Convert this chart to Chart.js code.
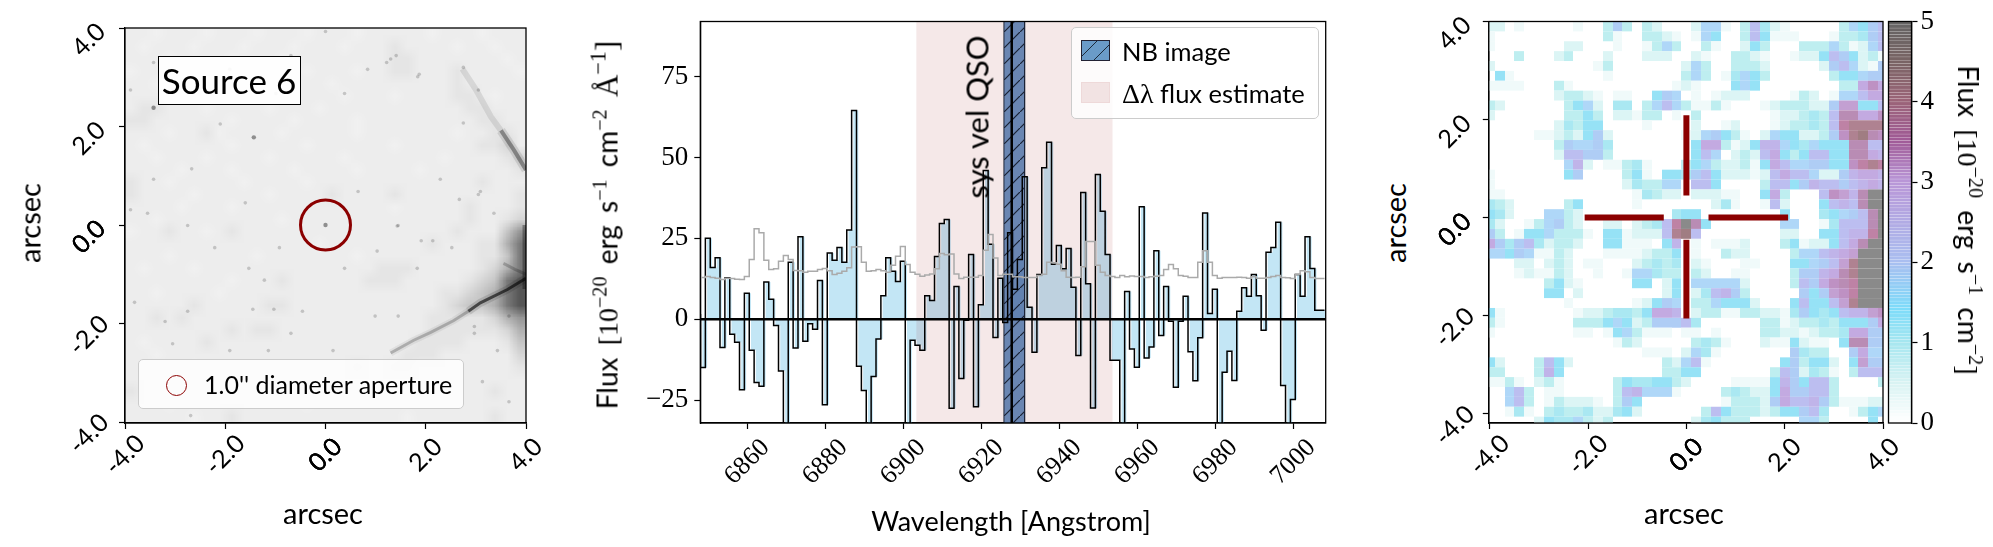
<!DOCTYPE html>
<html>
<head>
<meta charset="utf-8">
<script src="https://cdn.jsdelivr.net/npm/chart.js@4"></script>
<style>
  body { margin: 0; background: #fff; width: 1993px; height: 547px; overflow: hidden; position: relative; }
  canvas { position: absolute; top: 0; }
  .t { position: absolute; white-space: nowrap; font-family: Lato, sans-serif; color: #000; line-height: 1; }
  .c { transform: translate(-50%, -50%); }
  .up { transform: translate(-50%, -50%) rotate(-90deg); }
  .down { transform: translate(-50%, -50%) rotate(90deg); }
  .m { font-family: "Liberation Serif", serif; }
  sup { font-family: "Liberation Serif", serif; font-size: 0.72em; line-height: 0; vertical-align: 0.55em; }
  .box { position: absolute; box-sizing: border-box; }
</style>
</head>
<body>
<canvas id="imgPanel" width="620" height="547" style="left:0"></canvas>
<canvas id="specPanel" width="730" height="547" style="left:620px"></canvas>
<canvas id="heatPanel" width="500" height="547" style="left:1420px"></canvas>
<canvas id="barPanel" width="133" height="547" style="left:1860px"></canvas>

<div class="t c" style="left:323px;top:512px;font-size:29px">arcsec</div>
<div class="t up" style="left:29px;top:223px;font-size:29px">arcsec</div>
<div class="box" style="left:158px;top:56px;width:143px;height:49px;background:rgba(255,255,255,.9);border:1px solid #000"></div>
<div class="t c" style="left:229px;top:80px;font-size:35px">Source 6</div>
<div class="box" style="left:138px;top:359px;width:326px;height:50px;background:rgba(255,255,255,.8);border:1px solid #ccc;border-radius:5px"></div>
<div class="box" style="left:166px;top:375px;width:21px;height:21px;border:1.5px solid #8b0000;border-radius:50%"></div>
<div class="t" style="left:204px;top:372px;font-size:25px">1.0'' diameter aperture</div>

<div class="t up" style="left:607px;top:225px;font-size:28px;word-spacing:5px">Flux <span class="m">[10<sup>−20</sup></span> erg s<sup>−1</sup> cm<sup>−2</sup> <span class="m" style="font-size:31px">Å<sup>−1</sup>]</span></div>
<div class="t c" style="left:1011px;top:520px;font-size:27px">Wavelength [Angstrom]</div>
<div class="t up" style="left:977px;top:117px;font-size:31px">sys vel QSO</div>
<div class="box" style="left:1071px;top:27px;width:248px;height:92px;background:rgba(255,255,255,.8);border:1px solid #ccc;border-radius:5px"></div>
<div class="box" style="left:1081px;top:40px;width:29px;height:21px;border:1px solid #223;background:repeating-linear-gradient(135deg,#6a9bc8 0 10.3px,#1c2a3a 10.3px 11.3px)"></div>
<div class="box" style="left:1081px;top:82px;width:29px;height:21px;background:#f2e3e3;border:1px solid #eed9d9"></div>
<div class="t" style="left:1122px;top:39px;font-size:25.5px">NB image</div>
<div class="t" style="left:1122px;top:80px;font-size:25.5px"><span class="m" style="font-size:28px">Δλ</span> flux estimate</div>

<div class="t c" style="left:1684px;top:512px;font-size:29px">arcsec</div>
<div class="t up" style="left:1394px;top:223px;font-size:29px">arcsec</div>
<div class="t down" style="left:1968px;top:220px;font-size:28px;word-spacing:5px">Flux <span class="m">[10<sup>−20</sup></span> erg s<sup>−1</sup> cm<sup>−2</sup><span class="m">]</span></div>

<script>
// spectrum, one value per 1.25 A bin, left edge of each bin
const wave = [6848,6849.25,6850.5,6851.75,6853,6854.25,6855.5,6856.75,6858,6859.25,6860.5,6861.75,6863,6864.25,6865.5,6866.75,
  6868,6869.25,6870.5,6871.75,6873,6874.25,6875.5,6876.75,6878,6879.25,6880.5,6881.75,6883,6884.25,6885.5,6886.75,
  6888,6889.25,6890.5,6891.75,6893,6894.25,6895.5,6896.75,6898,6899.25,6900.5,6901.75,6903,6904.25,6905.5,6906.75,
  6908,6909.25,6910.5,6911.75,6913,6914.25,6915.5,6916.75,6918,6919.25,6920.5,6921.75,6923,6924.25,6925.5,6926.75,
  6928,6929.25,6930.5,6931.75,6933,6934.25,6935.5,6936.75,6938,6939.25,6940.5,6941.75,6943,6944.25,6945.5,6946.75,
  6948,6949.25,6950.5,6951.75,6953,6954.25,6955.5,6956.75,6958,6959.25,6960.5,6961.75,6963,6964.25,6965.5,6966.75,
  6968,6969.25,6970.5,6971.75,6973,6974.25,6975.5,6976.75,6978,6979.25,6980.5,6981.75,6983,6984.25,6985.5,6986.75,
  6988,6989.25,6990.5,6991.75,6993,6994.25,6995.5,6996.75,6998,6999.25,7000.5,7001.75,7003,7004.25,7005.5,7006.75,7008];
const flux = [1.6,-14.9,25,16,19,-8.7,12.8,-4.6,-7.1,-21.8,8,-9.6,-19.5,-20.7,11.5,6.2,
  -1.9,-16,-36,17.6,-8.9,25.5,-6.8,-1.4,-3.1,12,-26.4,20.5,18.2,22.2,17.6,27.6,
  64.5,-14.5,-22,-35,-17.7,-6.1,7.3,19,14.8,11.7,17.9,-40,-6.5,-8,-9.6,7.3,
  5.8,19.4,29.6,30.8,-27.5,10.1,-18.3,-0.3,20,-27,4.5,46,23.2,-5.6,12.7,-1,
  26.7,9.3,18.5,44,3.7,-10.2,13.8,46.8,54.7,17,22.8,15.6,21.9,9.9,-11.2,39.2,
  11,-27.4,44.7,33.4,20,-12.7,-12.7,-40,8.6,-9.2,-14.8,34.8,-12,-8.6,21.2,-5,
  10.1,-0.6,-21,-0.6,7.1,-10,-19,-5.7,32.8,1.8,9.3,-40,-16.4,-9.9,-18.9,2.5,
  9.7,7.1,13.8,7.3,-3.4,20.7,22.2,30,-20.5,-35,-24.8,13.8,7.1,25.5,15.7,2.8,2.8];
const noise = [12.6,12.9,13.2,12.9,12.7,12.3,12.7,12.6,12.4,12.3,13.2,18.5,28,26.7,18.2,15.4,
  15.6,17.9,19.7,18.5,15.1,15,14.5,14.8,14.8,15.4,15.7,15,13.8,14.2,14.8,15.9,
  22.3,22.4,17.6,14.8,15,15.4,15,14.5,16.7,19.5,22.5,16.9,14.5,13.9,13.3,13.7,
  14,15.6,20.3,19.9,20.2,14,12.6,13,13,13,13.5,21.3,26.2,18.9,13.5,13.9,
  13.9,13.1,13.1,12.9,12.9,12.9,13.5,13.9,17.6,17.5,17,15,13,12.9,13,16.2,
  24,24,16.7,14.5,13.5,13.2,12.9,13.5,13.1,13.4,13.2,13.2,12.9,13.1,13.3,13.5,
  15.4,16.9,15.6,13.5,13.3,12.9,12.9,17.6,21.2,17.6,13.5,12.7,12.9,12.9,12.9,13,
  12.9,12.7,13.1,12.7,12.7,12.9,13.2,13.5,12.9,12.8,12.6,13.8,15,14.7,12.9,12.6,12.6];
const fluxBand = [6903.3, 6953.7];
const nbBand = [6925.8, 6931.1];
const sysVel = 6927.8;

const waveTicks = [6860,6880,6900,6920,6940,6960,6980,7000];
const fluxTicks = [-25,0,25,50,75];
const fluxTickLabels = ['−25','0','25','50','75'];
const arcsecTicks = [-4,-2,0,2,4];
const arcsecLabels = ['-4.0','-2.0','0.0','2.0','4.0'];
const barTicks = [0,1,2,3,4,5];

// NB flux map, one object per row from the top, col: flux in quarter units, missing cells are 0
const heatRows = [
  {0:2,1:2,3:1,9:1,12:3,13:7,14:3,16:3,17:2,21:2,22:6,23:6,24:1,26:3,27:8,28:4,29:2,30:1,36:3,37:6,38:5,39:7,40:8},
  {0:1,12:3,13:1,16:3,17:3,18:2,19:1,21:1,22:6,23:5,26:3,27:8,28:5,29:1,30:1,31:1,35:1,36:3,37:3,38:4,39:7,40:8},
  {0:1,8:2,9:2,13:1,16:1,17:3,18:6,19:3,22:3,23:1,26:2,27:5,28:3,32:3,33:3,34:3,35:6,36:3,37:1,38:2,39:6,40:8},
  {3:3,7:2,8:3,12:2,16:2,17:2,18:2,21:2,22:1,25:3,26:3,27:2,28:1,31:1,32:2,33:2,34:5,35:8,36:7,37:5,38:2,39:3,40:1},
  {0:2,11:1,12:3,20:2,21:6,22:3,25:3,26:3,27:3,28:2,34:2,35:7,36:8,37:6,38:2,39:1,40:7},
  {1:5,2:1,12:1,20:3,21:6,22:3,24:1,25:4,26:6,27:5,28:3,35:3,36:5,37:5,38:6,39:7,40:7},
  {0:1,1:1,2:1,3:1,7:3,8:1,19:1,20:2,21:1,25:5,26:6,27:5,36:3,37:3,38:10,39:12,40:10},
  {7:2,8:3,9:3,10:2,11:1,13:1,14:1,17:5,18:7,19:6,21:1,23:1,24:2,25:2,26:2,31:1,32:3,33:2,35:1,36:6,37:6,38:8,39:10,40:10},
  {0:3,1:2,8:3,9:5,10:6,11:2,13:4,14:4,16:3,17:6,18:8,19:6,20:3,21:1,22:1,23:3,24:1,28:1,29:2,30:3,31:3,32:3,33:2,34:2,35:7,36:11,37:11,38:5,39:5,40:8},
  {0:2,8:3,9:3,10:5,11:3,13:2,14:2,15:1,16:3,17:3,19:1,21:3,29:1,30:2,31:2,32:3,33:4,34:3,35:8,36:13,37:13,38:10,39:10,40:12},
  {7:2,8:4,9:3,10:5,11:5,16:1,21:2,24:1,25:2,29:1,30:2,31:3,32:3,33:4,34:3,35:8,36:14,37:15,38:15,39:15,40:15},
  {5:1,6:1,7:2,8:3,9:2,10:5,11:7,12:2,20:1,21:2,22:6,23:7,24:5,25:3,26:1,28:2,29:6,30:5,31:5,32:2,33:2,34:3,35:7,36:12,37:15,38:16,39:13,40:12},
  {7:3,8:7,9:6,10:6,11:7,12:4,21:5,22:10,23:10,24:3,25:1,26:2,27:5,28:9,29:9,30:6,31:5,32:4,33:6,34:5,35:5,36:5,37:13,38:13,39:8,40:8},
  {7:2,8:8,9:8,10:7,11:7,12:3,21:5,22:8,23:6,25:2,26:3,27:2,28:8,29:10,30:5,31:3,32:5,33:8,34:8,35:5,36:5,37:13,38:13,39:10,40:9},
  {8:6,9:9,10:2,12:1,13:1,14:3,15:4,16:1,20:3,21:5,22:6,23:3,24:2,25:2,26:3,27:1,28:5,29:10,30:8,31:6,32:6,33:7,34:7,35:5,36:5,37:12,38:14,39:15,40:14},
  {0:1,8:5,9:7,14:3,15:5,16:1,18:5,19:5,20:4,21:7,22:8,23:5,24:2,25:2,26:2,27:1,28:2,29:8,30:10,31:8,32:8,33:6,34:2,35:2,36:7,37:9,38:10,39:10,40:9},
  {0:1,14:2,15:4,16:3,17:3,18:6,19:6,21:8,22:8,23:5,28:3,29:8,30:8,31:5,32:7,33:9,34:8,35:8,36:7,37:8,38:9,39:10,40:9},
  {0:1,1:1,15:1,16:4,17:3,18:2,19:2,21:2,22:2,23:2,24:1,25:1,28:5,29:10,30:3,34:8,35:12,36:11,37:9,38:13,39:20,40:20},
  {0:4,1:3,2:2,8:3,9:5,15:1,23:2,24:4,25:1,28:1,29:8,30:2,34:5,35:8,36:9,37:8,38:13,39:20,40:20},
  {0:5,1:4,2:2,6:6,7:6,8:3,9:2,19:4,20:5,21:5,30:5,34:4,35:5,36:6,37:7,38:8,39:13,40:20},
  {0:4,1:2,4:1,5:3,6:6,7:7,8:3,9:2,12:2,13:2,15:2,16:3,17:4,18:8,19:14,20:20,21:13,22:5,30:6,31:6,34:1,35:4,36:8,37:8,38:8,39:13,40:20},
  {0:7,1:3,3:1,4:5,5:5,6:6,7:3,8:3,9:3,10:1,12:5,13:5,14:1,15:2,16:2,17:2,18:8,19:15,20:16,21:8,30:2,31:2,34:5,35:5,36:8,37:9,38:9,39:14,40:20},
  {0:10,1:7,2:4,3:7,4:8,5:4,6:2,7:3,8:3,9:2,12:5,13:5,14:1,15:1,16:1,18:5,19:9,21:1,23:1,24:1,25:1,26:2,30:3,31:5,32:1,33:2,34:2,35:5,36:8,37:10,38:13,39:20,40:20},
  {0:6,1:6,2:5,3:7,4:6,5:1,6:1,7:3,8:2,12:1,13:1,14:1,15:1,16:2,17:3,18:3,19:5,21:1,24:3,25:2,26:2,31:3,32:6,33:6,34:8,35:9,36:10,37:11,38:20,39:20,40:20},
  {3:2,4:2,6:2,7:3,8:2,10:1,11:1,15:2,16:3,17:4,18:3,19:4,21:2,22:1,26:1,27:1,31:5,32:5,33:6,34:7,35:8,36:11,37:15,38:20,39:20,40:20},
  {3:1,4:2,5:1,6:1,7:3,8:2,11:1,14:1,15:6,16:6,17:4,18:3,19:3,21:3,22:2,25:1,26:1,31:3,32:7,33:7,34:9,35:10,36:13,37:15,38:20,39:20,40:20},
  {6:3,7:5,8:2,9:1,15:5,16:5,18:2,19:5,21:6,22:6,23:6,24:6,25:6,26:2,31:3,32:8,33:7,34:10,35:12,36:13,37:14,38:20,39:20,40:20},
  {6:5,7:5,9:2,18:2,19:5,21:2,22:4,23:8,24:9,25:7,26:3,32:7,33:5,34:7,35:11,36:12,37:14,38:20,39:20,40:20},
  {8:1,15:1,16:2,17:5,18:7,19:6,21:3,22:3,23:6,24:5,25:5,26:5,27:2,31:5,32:8,33:5,34:5,35:8,36:11,37:15,38:20,39:20,40:20},
  {0:5,1:1,9:1,10:2,11:2,12:3,13:4,14:4,15:3,16:5,17:10,18:10,19:9,21:2,22:3,23:3,24:1,25:1,26:3,27:3,28:2,29:2,30:1,31:4,32:7,33:5,34:4,35:5,36:8,37:9,38:9,39:11,40:12},
  {0:3,1:1,9:3,10:3,11:3,12:5,13:6,14:5,15:2,16:3,17:7,18:7,19:7,20:8,21:4,28:3,29:3,30:1,31:2,32:3,33:3,34:4,35:3,36:5,37:5,38:5,39:7,40:10},
  {0:1,9:1,10:1,12:1,13:5,14:6,15:3,16:1,17:1,18:1,20:1,21:1,23:1,28:3,29:3,30:2,31:2,32:1,33:2,34:3,35:3,36:4,37:10,38:10,39:7,40:7},
  {13:1,14:3,15:2,21:3,22:4,23:3,24:1,28:2,29:1,30:1,31:5,32:2,33:1,34:1,36:5,37:13,38:13,39:7,40:7},
  {16:1,17:1,18:1,20:2,21:6,22:4,23:1,31:7,32:4,33:3,34:3,37:7,38:10,39:6,40:6},
  {0:5,1:2,5:3,6:8,7:5,8:2,18:3,19:2,20:6,21:8,22:1,30:5,31:7,32:3,33:5,34:5,35:2,37:5,38:11,39:7,40:7},
  {0:3,1:3,5:3,6:9,7:5,18:3,19:3,20:5,21:5,29:3,30:8,31:7,32:2,33:4,34:3,35:1,37:3,38:8,39:8,40:8},
  {0:1,1:1,2:3,3:1,5:2,6:3,7:1,13:3,14:5,15:4,16:4,17:5,18:5,19:3,20:2,25:1,26:1,27:1,28:1,29:5,30:9,31:7,32:5,33:8,34:8,35:3,40:3},
  {2:6,3:8,4:3,6:1,7:1,13:3,14:8,15:9,16:6,17:6,18:6,19:1,24:3,25:4,26:3,27:2,28:2,29:5,30:10,31:7,32:7,33:8,34:8,35:3},
  {2:6,3:8,4:3,6:1,7:3,8:2,9:2,10:2,11:1,13:3,14:7,15:5,24:1,25:3,26:3,27:3,28:2,29:7,30:10,31:8,32:8,33:9,34:7,35:3,36:1,37:1,38:1,39:2,40:2},
  {2:1,3:4,4:1,6:3,7:4,8:3,9:3,10:4,11:2,12:2,13:4,14:5,15:2,22:3,23:8,24:5,25:3,26:3,27:3,28:2,29:3,30:5,31:5,32:7,33:8,34:4,37:1,38:3,39:5,40:6},
  {5:2,6:5,7:4,8:4,9:6,10:3,11:2,12:3,21:2,22:4,23:5,24:3,25:3,26:3,32:6,33:6,34:3,39:5}
];
const heatStops = [0,0.25,0.5,0.75,1,1.25,1.5,1.75,2,2.5,2.75,3,3.25,3.5,3.75,4,5];
const heatColors = [[255,255,255],[240,250,250],[220,245,245],[190,238,240],[170,232,242],[150,226,246],[175,215,248],[175,205,245],
  [188,190,240],[195,170,225],[195,160,210],[190,145,195],[185,140,180],[190,130,165],[175,130,145],[160,125,130],[138,138,138]];
const barStops = [0,0.5,1,1.4,2,3,3.5,4,4.5,5];
const barColors = [[255,255,255],[215,243,243],[165,230,240],[125,220,250],[170,190,240],[185,150,215],[160,90,150],[155,100,120],[120,100,100],[100,100,100]];

// HST cutout, tone read by eye on a 0.25 arcsec grid, the pixel noise itself is not reproduced
const imgRows = [
  '22122212221222122212222212221222',
  '21222122212221222122232222122122',
  '22212222122212222222233222222212',
  '12221222212222122212233222322221',
  '22122122222122221222222222322222',
  '22212222122222222122212222332122',
  '23322212222122212222222222233222',
  '33222222122221222212222222223322',
  '22212231222212222212222222122332',
  '21222222122222122222212222223342',
  '22122212222122222122222221222234',
  '22221222122221222212222122222223',
  '32212222212222122222222222223222',
  '32222122222122223222232222222223',
  '22221222122222222222212222232223',
  '22122222222212222222222222232234',
  '12232212322222222222222222322257',
  '22222222222222212222222232223368',
  '22212222221222222212222222223358',
  '21222122222222222222333222223468',
  '22222222122232222223332222234589',
  '22122221222222222222222223345689',
  '22222322222332222222222223455689',
  '22323222222222222222222233333467',
  '22222222323322222222222233333346',
  '21222232222222222222222333322235',
  '22122222222222222222223332222224',
  '22222122222222222232233222222223',
  '22212222212222222222222222222222',
  '32222222222122222222222222222322',
  '22212222222222122222222222222222',
  '22222122322222222222221222222322'
];
const imgGrey = [250,241,237,229,214,197,176,150,120,85];
const speckDark = [{x:-1.43,y:1.78},{x:-3.43,y:2.38},{x:0,y:0}];
const speckFaint = [{x:-2.69,y:-3.87},{x:1.87,y:3.06},{x:0.65,y:0.68},{x:-2.1,y:2.05},{x:-2.75,y:-0.01},{x:-3.55,y:0.24},
  {x:-1.22,y:-1.12},{x:-1.45,y:-1.71},{x:-3.2,y:-1.96},{x:-2.75,y:-1.75},{x:1.45,y:-0.01},{x:1.03,y:-0.53},{x:3.05,y:0.62},
  {x:2.14,y:-0.32},{x:2.75,y:3.2},{x:-0.46,y:-1.75},{x:-1.03,y:-1.71},{x:0.15,y:-2.55},{x:2.52,y:-0.46},{x:1.22,y:3.3},{x:2.97,y:-2.06},{x:3.05,y:2.74},
  {x:1.41,y:3.44},{x:1.3,y:3.37},{x:0.84,y:3.16},{x:-0.69,y:3.44},{x:0,y:3.93},{x:0.38,y:2.67},{x:-1.91,y:3.16},{x:-3.43,y:3.3},{x:-3.89,y:2.74},
  {x:-0.99,y:2.67},{x:-2.67,y:1.14},{x:-1.6,y:0.45},{x:-3.43,y:0.93},{x:-3.89,y:0.31},{x:-2.21,y:-0.46},{x:-1.53,y:-0.88},{x:-0.92,y:-0.46},
  {x:0.38,y:-0.88},{x:1.91,y:-0.32},{x:1.83,y:-0.88},{x:2.67,y:0.52},{x:2.29,y:0.93},{x:3.36,y:0.24},{x:0.99,y:-1.85},{x:1.45,y:-1.85},
  {x:-1.91,y:-2.55},{x:-3.05,y:-2.41},{x:-3.81,y:-1.57},{x:-1.14,y:-2.55},{x:3.43,y:-2.55},{x:3.13,y:-3.18},{x:3.66,y:-3.59},{x:2.97,y:-2.2},
  {x:3.66,y:-1.85},{x:-0.69,y:-2.2},{x:1.84,y:3.01},{x:2.75,y:2.07},{x:3.09,y:0.68},{x:1.43,y:-0.02}];
const lowerArc = [{x:4,y:-1.08},{x:3.63,y:-1.31},{x:3.09,y:-1.58},{x:2.85,y:-1.75}];
const lowerArcEnd = [{x:2.85,y:-1.75},{x:2.56,y:-1.94},{x:2.1,y:-2.18},{x:1.76,y:-2.34},{x:1.3,y:-2.6}];
const upperArc = [{x:4,y:1.12},{x:3.76,y:1.52},{x:3.5,y:1.92}];
const upperArcEnd = [{x:3.5,y:1.92},{x:3.3,y:2.2},{x:3,y:2.75},{x:2.73,y:3.17}];
const knot = [{x:3.97,y:0},{x:3.97,y:-0.6},{x:3.97,y:-1.3}];
const knotArm = [{x:4,y:-1},{x:3.78,y:-0.9},{x:3.55,y:-0.78}];

const crossArms = [
  [{x:-2.07,y:0},{x:-0.46,y:0}],
  [{x:0.45,y:0},{x:2.07,y:0}],
  [{x:0,y:2.09},{x:0,y:0.45}],
  [{x:0,y:-0.45},{x:0,y:-2.06}]
];

const sans = 'Lato, sans-serif';
const serif = '"Liberation Serif", serif';

const lerpColor = (v, stops, colors) => {
  let i = 0;
  while (i < stops.length - 2 && v > stops[i + 1]) i++;
  const f = Math.min(1, (v - stops[i]) / (stops[i + 1] - stops[i]));
  const c = colors[i].map((a, k) => Math.round(a + (colors[i + 1][k] - a) * f));
  return `rgb(${c[0]},${c[1]},${c[2]})`;
};

// frame of the axes on top of everything
const framePlugin = {
  id: 'frame',
  afterDatasetsDraw(chart) {
    const a = chart.chartArea;
    chart.ctx.save();
    chart.ctx.strokeStyle = '#000';
    chart.ctx.lineWidth = 1.3;
    chart.ctx.strokeRect(a.left, a.top, a.width, a.height);
    chart.ctx.restore();
  }
};

// matplotlib centres rotated tick labels on the tick, chart.js does not, so they go through this
const tickText = (spec) => ({
  id: 'tickText',
  afterDraw(chart) {
    const ctx = chart.ctx;
    const a = chart.chartArea;
    ctx.save();
    ctx.fillStyle = '#000';
    ctx.textBaseline = 'middle';
    const put = (px, py, label, s) => {
      ctx.save();
      ctx.translate(px, py);
      ctx.rotate(s.angle * Math.PI / 180);
      ctx.font = s.font;
      ctx.textAlign = s.align || 'center';
      const n = label === '0.0' ? 3 : 1; // overplotted in the reference
      for (let k = 0; k < n; k++) ctx.fillText(label, 0, 0);
      ctx.restore();
    };
    if (spec.x) spec.x.values.forEach((v, i) => put(chart.scales.x.getPixelForValue(v), a.bottom + spec.x.dy, spec.x.labels[i], spec.x));
    if (spec.y) spec.y.values.forEach((v, i) => put((spec.y.right ? a.right : a.left) + spec.y.dx, chart.scales.y.getPixelForValue(v) + (spec.y.dy || 0), spec.y.labels[i], spec.y));
    ctx.restore();
  }
});

// coloured cells placed through the scales
const cellsPlugin = {
  id: 'cells',
  beforeDatasetsDraw(chart) {
    const { x, y } = chart.scales;
    const a = chart.chartArea;
    const ctx = chart.ctx;
    ctx.save();
    ctx.beginPath();
    ctx.rect(a.left, a.top, a.width, a.height);
    ctx.clip();
    chart.data.datasets.forEach(ds => {
      (ds.cells || []).forEach(c => {
        const x0 = Math.round(x.getPixelForValue(c.x0));
        const x1 = Math.round(x.getPixelForValue(c.x1));
        const y0 = y.getPixelForValue(c.y0);
        const y1 = y.getPixelForValue(c.y1);
        ctx.fillStyle = c.color;
        ctx.fillRect(x0, y0, x1 - x0, y1 - y0);
      });
    });
    ctx.restore();
  }
};

// the grey image, same idea but scaled up smoothly
const imagePlugin = {
  id: 'greyImage',
  beforeDatasetsDraw(chart) {
    const { x, y } = chart.scales;
    const off = document.createElement('canvas');
    off.width = imgRows[0].length;
    off.height = imgRows.length;
    const o = off.getContext('2d');
    imgRows.forEach((row, r) => {
      [...row].forEach((d, c) => {
        const g = imgGrey[parseInt(d)];
        o.fillStyle = `rgb(${g},${g},${g})`;
        o.fillRect(c, r, 1, 1);
      });
    });
    const x0 = x.getPixelForValue(-4), x1 = x.getPixelForValue(4);
    const y0 = y.getPixelForValue(4), y1 = y.getPixelForValue(-4);
    chart.ctx.save();
    chart.ctx.imageSmoothingEnabled = true;
    chart.ctx.drawImage(off, x0, y0, x1 - x0, y1 - y0);
    chart.ctx.restore();
  }
};

const axisBase = (min, max, values) => ({
  type: 'linear',
  min: min,
  max: max,
  afterBuildTicks: s => { s.ticks = values.map(v => ({ value: v })); },
  afterFit: s => { if (s.isHorizontal()) s.height = 0; else s.width = 0; },
  ticks: { display: false, autoSkip: false },
  grid: { drawOnChartArea: false, tickLength: 6, tickColor: '#000', tickWidth: 1.2 },
  border: { color: '#000', width: 1.3 }
});

const baseOptions = (padding, scales) => ({
  responsive: false,
  animation: false,
  events: [],
  layout: { padding: padding },
  plugins: { legend: { display: false }, tooltip: { enabled: false } },
  scales: scales
});

const lineSet = (data, color, width, extra) => Object.assign({
  type: 'line',
  data: data,
  borderColor: color,
  borderWidth: width,
  pointRadius: 0,
  fill: false
}, extra || {});

// left panel
new Chart(document.getElementById('imgPanel'), {
  type: 'scatter',
  data: {
    datasets: [
      lineSet(lowerArc, 'rgba(0,0,0,0.12)', 8),
      lineSet(lowerArc, 'rgba(0,0,0,0.6)', 3),
      lineSet(lowerArcEnd, 'rgba(0,0,0,0.06)', 7),
      lineSet(lowerArcEnd, 'rgba(0,0,0,0.22)', 3),
      lineSet(upperArc, 'rgba(0,0,0,0.1)', 9),
      lineSet(upperArc, 'rgba(0,0,0,0.35)', 4),
      lineSet(upperArcEnd, 'rgba(0,0,0,0.09)', 6),
      lineSet(knot, 'rgba(0,0,0,0.35)', 4),
      lineSet(knotArm, 'rgba(0,0,0,0.2)', 3),
      { data: speckFaint, pointRadius: 1.8, pointBackgroundColor: 'rgba(0,0,0,0.18)', pointBorderWidth: 0 },
      { data: speckDark, pointRadius: 2.2, pointBackgroundColor: 'rgba(0,0,0,0.4)', pointBorderWidth: 0 },
      { data: [{ x: 0, y: 0 }], pointRadius: 25, pointBackgroundColor: 'rgba(0,0,0,0)', pointBorderColor: '#8b0000', pointBorderWidth: 3 }
    ]
  },
  options: baseOptions({ left: 125, right: 94, top: 21.5, bottom: 124 }, {
    x: axisBase(-4, 4, arcsecTicks),
    y: axisBase(-4.02, 4, arcsecTicks)
  }),
  plugins: [imagePlugin, framePlugin, tickText({
    x: { values: arcsecTicks, labels: arcsecLabels, font: '25px ' + sans, angle: -45, dy: 32 },
    y: { values: arcsecTicks, labels: arcsecLabels, font: '25px ' + sans, angle: -45, dx: -36, dy: 12 }
  })]
});

// hatch for the NB band
const hatch = document.createElement('canvas');
hatch.width = 16;
hatch.height = 16;
const hctx = hatch.getContext('2d');
hctx.fillStyle = 'rgba(82,116,168,0.85)';
hctx.fillRect(0, 0, 16, 16);
hctx.strokeStyle = 'rgba(20,28,45,0.95)';
hctx.lineWidth = 1.2;
hctx.beginPath();
hctx.moveTo(-2, 18);
hctx.lineTo(18, -2);
hctx.stroke();
const hatchFill = document.getElementById('specPanel').getContext('2d').createPattern(hatch, 'repeat');

const fluxPts = wave.map((w, i) => ({ x: w, y: flux[i] }));
const fillPts = wave.map((w, i) => ({ x: w + 0.45, y: flux[i] }));
const noisePts = wave.map((w, i) => ({ x: w, y: noise[i] }));
const yTop = 92, yBottom = -32.05;

// middle panel
new Chart(document.getElementById('specPanel'), {
  type: 'line',
  data: {
    datasets: [
      lineSet([{ x: 6800, y: 0 }, { x: 7050, y: 0 }], '#000', 2.3, { order: 0 }),
      lineSet(noisePts, '#aaaaaa', 1.5, { stepped: 'after', order: 1 }),
      lineSet(fluxPts, '#000', 1.5, { stepped: 'after', order: 2 }),
      lineSet([{ x: sysVel, y: yBottom }, { x: sysVel, y: yTop }], '#000', 2.5, { order: 3 }),
      lineSet([{ x: nbBand[0], y: yBottom }, { x: nbBand[0], y: yTop }, { x: nbBand[1], y: yTop }, { x: nbBand[1], y: yBottom }],
        '#1c2438', 1, { order: 4, fill: 'start', backgroundColor: hatchFill }),
      lineSet([{ x: fluxBand[0], y: yTop }, { x: fluxBand[1], y: yTop }], 'rgba(0,0,0,0)', 0,
        { order: 5, fill: 'start', backgroundColor: 'rgba(139,0,0,0.09)' }),
      lineSet(fillPts, 'rgba(0,0,0,0)', 0, { stepped: 'after', order: 6, fill: 'origin', backgroundColor: 'rgba(135,206,235,0.5)' })
    ]
  },
  options: baseOptions({ left: 80.3, right: 24.3, top: 21.5, bottom: 124 }, {
    x: axisBase(6847.95, 7008.3, waveTicks),
    y: axisBase(yBottom, yTop, fluxTicks)
  }),
  plugins: [framePlugin, tickText({
    x: { values: waveTicks, labels: waveTicks.map(String), font: '26px ' + serif, angle: -45, dy: 39 },
    y: { values: fluxTicks, labels: fluxTickLabels, font: '27px ' + serif, angle: 0, dx: -12, align: 'right' }
  })]
});

// right panel, cells are 0.2 arcsec, row 0 starts at the top of the axis
const heatCells = [];
heatRows.forEach((row, r) => {
  Object.keys(row).forEach(k => {
    const c = Number(k);
    const v = row[k] * 0.25;
    const xc = -4 + 0.2 * c;
    heatCells.push({ x0: xc - 0.1, x1: xc + 0.1, y0: 4 - 0.2015 * r, y1: 4 - 0.2015 * (r + 1), color: lerpColor(v, heatStops, heatColors) });
  });
});

new Chart(document.getElementById('heatPanel'), {
  type: 'scatter',
  data: {
    datasets: [
      { data: [], cells: heatCells },
      lineSet(crossArms[0], '#8b0000', 6),
      lineSet(crossArms[1], '#8b0000', 6),
      lineSet(crossArms[2], '#8b0000', 6),
      lineSet(crossArms[3], '#8b0000', 6)
    ]
  },
  options: baseOptions({ left: 68.8, right: 37, top: 21.5, bottom: 124 }, {
    x: axisBase(-4.02, 4, arcsecTicks),
    y: axisBase(-4.19, 4, arcsecTicks)
  }),
  plugins: [cellsPlugin, framePlugin, tickText({
    x: { values: arcsecTicks, labels: arcsecLabels, font: '25px ' + sans, angle: -45, dy: 32 },
    y: { values: arcsecTicks, labels: arcsecLabels, font: '25px ' + sans, angle: -45, dx: -34, dy: 12 }
  })]
});

// colour bar, its strips go through the same cell plugin
const barLevels = [];
for (let v = 0; v < 5; v += 0.04) barLevels.push(v);
const barCells = barLevels.map(v => ({ x0: 0, x1: 1, y0: v + 0.037, y1: v, color: lerpColor(v, barStops, barColors) }));
new Chart(document.getElementById('barPanel'), {
  type: 'scatter',
  data: { datasets: [{ data: [], cells: barCells }] },
  options: baseOptions({ left: 28.5, right: 81.5, top: 21.5, bottom: 124 }, {
    x: Object.assign(axisBase(0, 1, []), { display: false }),
    y: Object.assign(axisBase(0, 5, barTicks), { position: 'right' })
  }),
  plugins: [cellsPlugin, framePlugin, tickText({
    y: { values: barTicks, labels: barTicks.map(String), font: '27px ' + serif, angle: 0, dx: 9, right: true, align: 'left' }
  })]
});
</script>
</body>
</html>
